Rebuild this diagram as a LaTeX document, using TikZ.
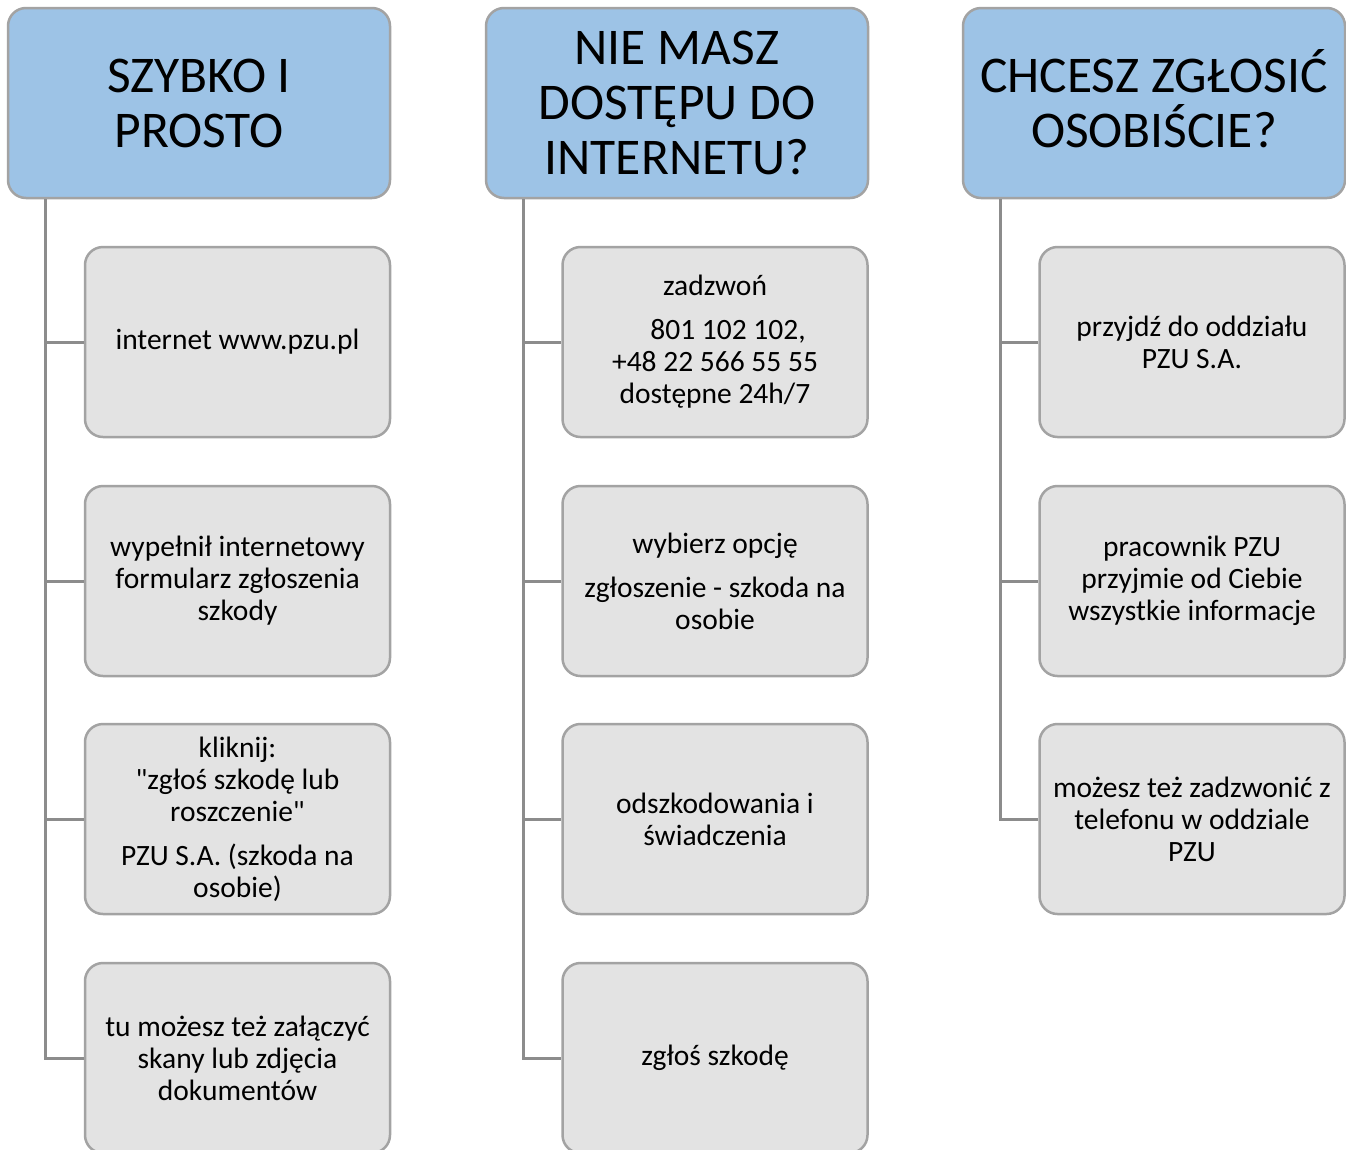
\documentclass[tikz,border=0pt]{standalone}
\usepackage{fontspec}
\setmainfont{Carlito}[Ligatures=TeXOff]
\definecolor{head area}{HTML}{9DC3E6}
\definecolor{item area}{HTML}{E3E3E3}
\definecolor{box edge}{HTML}{A3A3A3}
\definecolor{line edge}{HTML}{8C8C8C}
\tikzset{
  header/.style={rounded corners=18pt, fill=head area, draw=box edge, line width=2.5pt,
    minimum width=382pt, minimum height=190pt, align=center, font=\fontsize{51.5}{55}\selectfont},
  item/.style={rounded corners=18pt, fill=item area, draw=box edge, line width=2.5pt,
    minimum width=305pt, minimum height=190pt, align=center, font=\fontsize{29.5}{32}\selectfont}
  }
\tikzstyle{edge} = [draw, line width=3pt, line edge, -]

\begin{document}
\begin{tikzpicture}[x=1pt, y=-1pt]
  \useasboundingbox (0,0) rectangle (1346,1149);

  % headers
  \node[header] (h1) at (199,103) {SZYBKO I\\PROSTO};
  \node[header] (h2) at (677,103) {NIE MASZ\\DOSTĘPU DO\\INTERNETU?};
  \node[header] (h3) at (1154,103) {CHCESZ ZGŁOSI\smash{Ć}\\OSOBIŚCIE?};

  % first column
  \node[item] (a1) at (237.5,342) {internet www.pzu.pl};
  \node[item] (a2) at (237.5,581) {wypełnił internetowy\\formularz zgłoszenia\\szkody};
  \node[item] (a3) at (237.5,819) {kliknij:\\"zgłoś szkodę lub\\roszczenie"\\[12pt]PZU S.A. (szkoda na\\osobie)};
  \node[item] (a4) at (237.5,1058) {tu możesz też załączyć\\skany lub zdjęcia\\dokumentów};

  % second column
  \node[item] (b1) at (715,342) {zadzwoń\\[12pt]\hspace*{26pt}801 102 102,\\+48 22 566 55 55\\dostępne 24h/7};
  \node[item] (b2) at (715,581) {wybierz opcję\\[12pt]zgłoszenie - szkoda na\\osobie};
  \node[item] (b3) at (715,819) {odszkodowania i\\świadczenia};
  \node[item] (b4) at (715,1058) {zgłoś szkodę};

  % third column
  \node[item] (c1) at (1192,342) {przyjdź do oddziału\\PZU S.A.};
  \node[item] (c2) at (1192,581) {pracownik PZU\\przyjmie od Ciebie\\wszystkie informacje};
  \node[item] (c3) at (1192,819) {możesz też zadzwonić z\\telefonu w oddziale\\PZU};

  \foreach \h/\c in {h1/a1, h1/a2, h1/a3, h1/a4, h2/b1, h2/b2, h2/b3, h2/b4, h3/c1, h3/c2, h3/c3} {
    \path[edge] ([xshift=39pt]\h.south west) |- (\c.west);
  }
\end{tikzpicture}
\end{document}
